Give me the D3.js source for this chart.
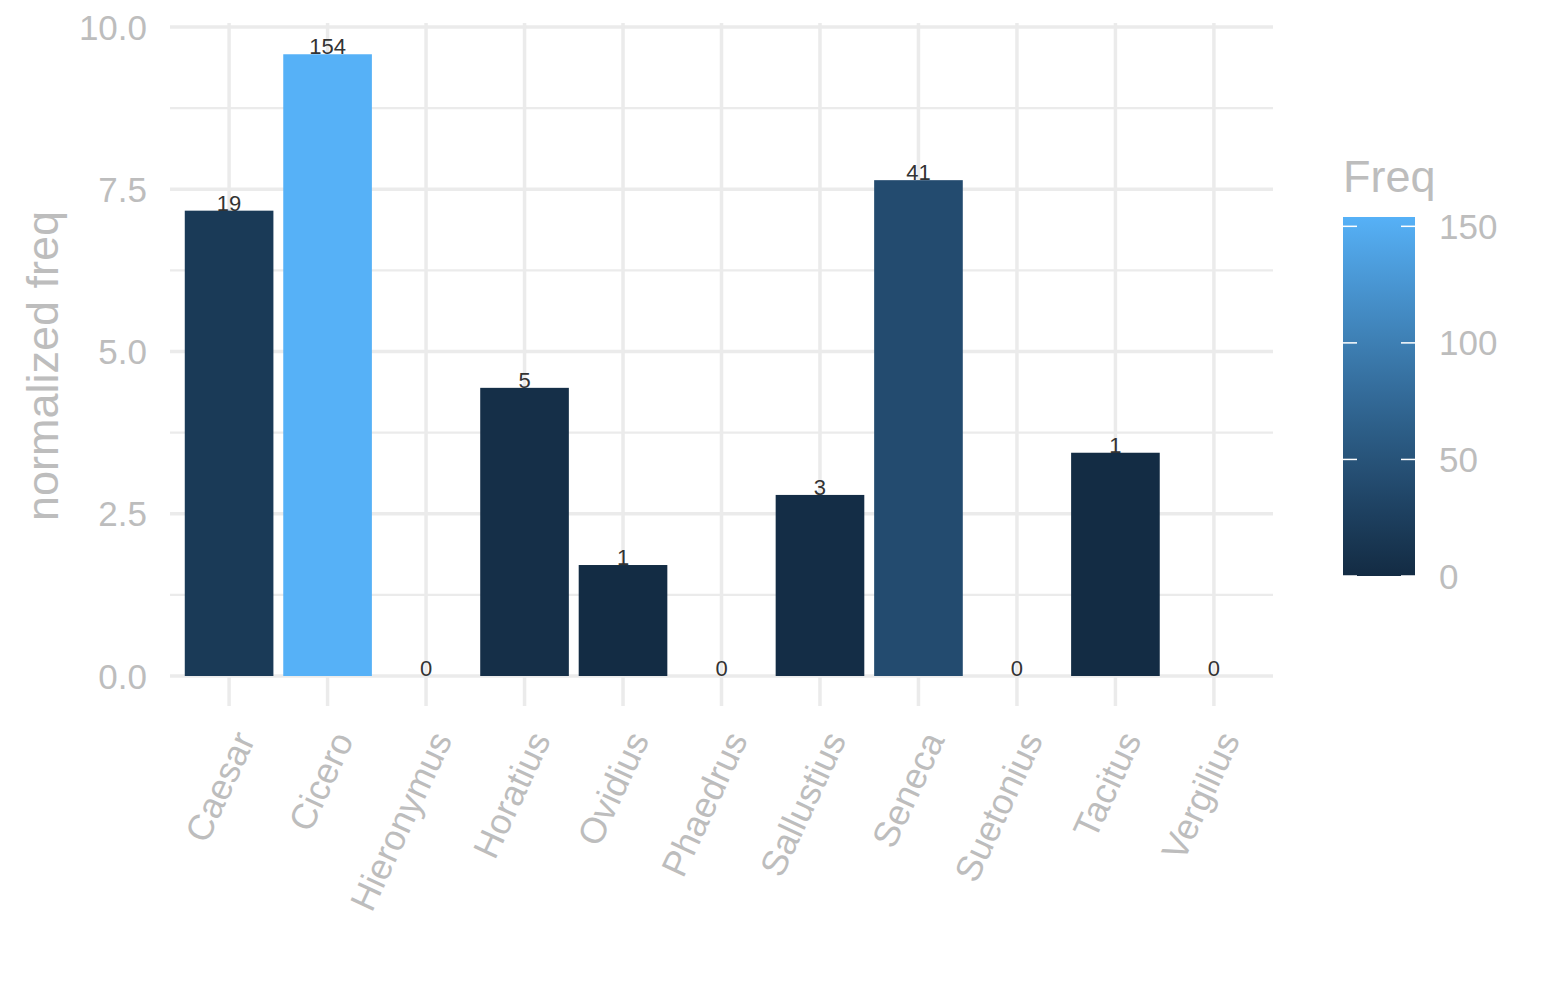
<!DOCTYPE html>
<html>
<head>
<meta charset="utf-8">
<script src="https://cdn.jsdelivr.net/npm/d3@7"></script>
<style>
  html, body { margin: 0; padding: 0; background: #fff; }
  svg { display: block; font-family: "Liberation Sans", Arial, sans-serif; }
</style>
</head>
<body>
<svg id="chart" width="1545" height="1000"></svg>
<script>
// --- data ---
const authors = ["Caesar", "Cicero", "Hieronymus", "Horatius", "Ovidius", "Phaedrus",
                 "Sallustius", "Seneca", "Suetonius", "Tacitus", "Vergilius"];
const normFreq = [7.17, 9.58, 0, 4.44, 1.71, 0, 2.79, 7.64, 0, 3.44, 0];
const freq = [19, 154, 0, 5, 1, 0, 3, 41, 0, 1, 0];
const yTicks = [0, 2.5, 5, 7.5, 10];
const yMinor = [1.25, 3.75, 6.25, 8.75];
const legendTicks = [0, 50, 100, 150];

const grey = "#bdbdbd";
const gridCol = "#ebebeb";

const svg = d3.select("#chart");

// scales
const x = d3.scaleBand().domain(authors).range([170, 1273]).paddingInner(0.1).paddingOuter(0.15);
const y = d3.scaleLinear().domain([0, 10]).range([676, 27]);
const colour = d3.scaleLinear().domain([0, 154]).range(["#132B43", "#56B1F7"]).interpolate(d3.interpolateLab);

// grid
const grid = svg.append("g");
grid.selectAll(".minor").data(yMinor).enter().append("line")
    .attr("x1", 170).attr("x2", 1273)
    .attr("y1", d => y(d)).attr("y2", d => y(d))
    .attr("stroke", gridCol).attr("stroke-width", 2.2);
grid.selectAll(".major").data(yTicks).enter().append("line")
    .attr("x1", 170).attr("x2", 1273)
    .attr("y1", d => y(d)).attr("y2", d => y(d))
    .attr("stroke", gridCol).attr("stroke-width", 3.5);
grid.selectAll(".vert").data(authors).enter().append("line")
    .attr("x1", d => x(d) + x.bandwidth() / 2).attr("x2", d => x(d) + x.bandwidth() / 2)
    .attr("y1", 23).attr("y2", 706)
    .attr("stroke", gridCol).attr("stroke-width", 3.5);

// bars
const rows = authors.map((a, i) => ({ author: a, v: normFreq[i], n: freq[i] }));
svg.append("g").selectAll("rect").data(rows).enter().append("rect")
    .attr("x", d => x(d.author))
    .attr("width", x.bandwidth())
    .attr("y", d => y(d.v))
    .attr("height", d => y(0) - y(d.v))
    .attr("fill", d => colour(d.n));

// count labels
svg.append("g").selectAll("text").data(rows).enter().append("text")
    .attr("x", d => x(d.author) + x.bandwidth() / 2)
    .attr("y", d => y(d.v))
    .attr("text-anchor", "middle")
    .attr("font-size", 22)
    .attr("fill", "#333")
    .text(d => d.n);

// y axis labels
svg.append("g").selectAll("text").data(yTicks).enter().append("text")
    .attr("x", 147).attr("y", d => y(d))
    .attr("dy", "0.36em")
    .attr("text-anchor", "end")
    .attr("font-size", 35)
    .attr("fill", grey)
    .text(d => d3.format(".1f")(d));

svg.append("text")
    .attr("transform", "translate(58,366) rotate(-90)")
    .attr("text-anchor", "middle")
    .attr("font-size", 45)
    .attr("fill", grey)
    .text("normalized freq");

// x axis labels
svg.append("g").selectAll("text").data(authors).enter().append("text")
    .attr("transform", d => `translate(${x(d) + x.bandwidth() / 2 + 15},${734}) rotate(-65)`)
    .attr("text-anchor", "end")
    .attr("dy", "0.36em")
    .attr("font-size", 36)
    .attr("fill", grey)
    .text(d => d);

// legend
const ly = d3.scaleLinear().domain([0, 154]).range([576, 217]);
const grad = svg.append("defs").append("linearGradient")
    .attr("id", "freqGrad").attr("x1", 0).attr("y1", 1).attr("x2", 0).attr("y2", 0);
d3.range(0, 1.0001, 0.1).forEach(t => {
    grad.append("stop").attr("offset", t).attr("stop-color", colour(t * 154));
});

svg.append("text")
    .attr("x", 1343).attr("y", 192)
    .attr("font-size", 45)
    .attr("fill", grey)
    .text("Freq");

svg.append("rect")
    .attr("x", 1343).attr("y", ly(154))
    .attr("width", 72).attr("height", ly(0) - ly(154))
    .attr("fill", "url(#freqGrad)");

const lt = svg.append("g");
lt.selectAll(".tl").data(legendTicks).enter().append("line")
    .attr("x1", 1343).attr("x2", 1357)
    .attr("y1", d => ly(d)).attr("y2", d => ly(d))
    .attr("stroke", "#fff").attr("stroke-width", 1.5);
lt.selectAll(".tr").data(legendTicks).enter().append("line")
    .attr("x1", 1401).attr("x2", 1415)
    .attr("y1", d => ly(d)).attr("y2", d => ly(d))
    .attr("stroke", "#fff").attr("stroke-width", 1.5);
lt.selectAll("text").data(legendTicks).enter().append("text")
    .attr("x", 1439).attr("y", d => ly(d))
    .attr("dy", "0.36em")
    .attr("font-size", 35)
    .attr("fill", grey)
    .text(d => d);
</script>
</body>
</html>
